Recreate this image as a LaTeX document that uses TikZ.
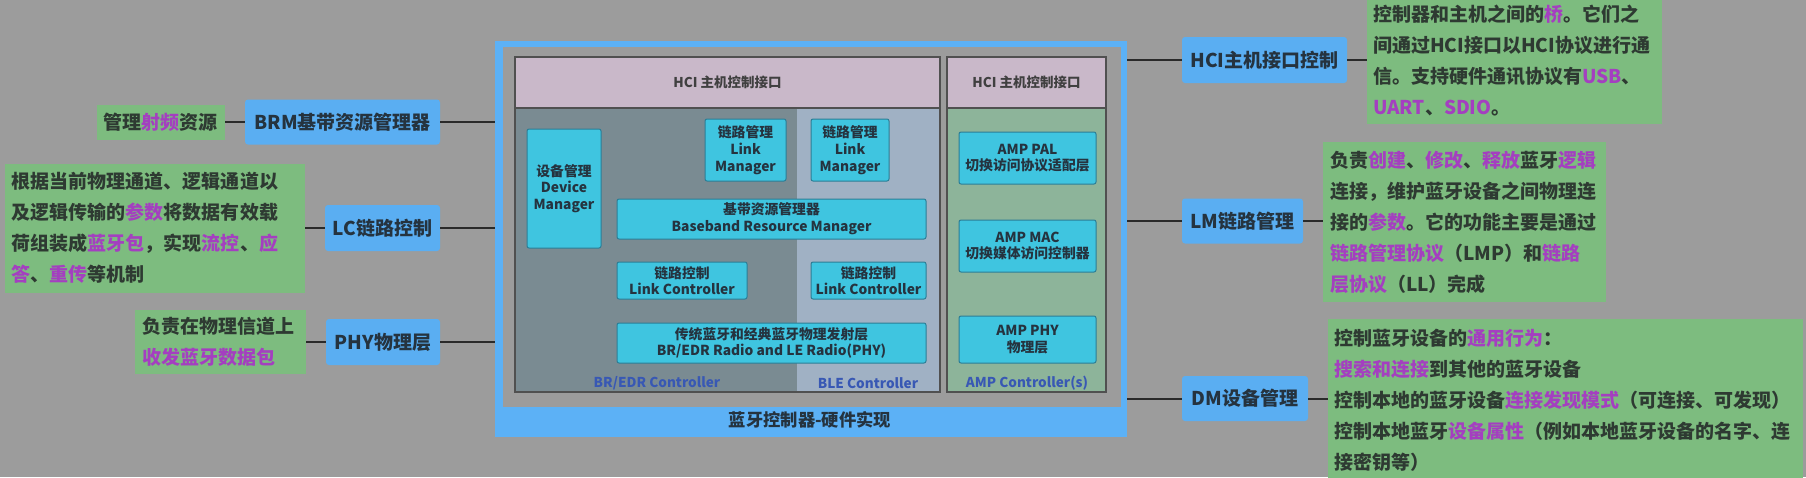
\documentclass[tikz,border=0pt]{standalone}
\usepackage{fontspec}
\setmainfont{Noto Sans CJK SC}
\definecolor{bg}{HTML}{9C9C9C}
\definecolor{nodeblue}{HTML}{5AAEF2}
\definecolor{frameblue}{HTML}{5CB1F6}
\definecolor{descgreen}{HTML}{7DBC7F}
\definecolor{hl}{HTML}{A43FC0}
\definecolor{txt}{HTML}{25333F}
\definecolor{gtxt}{HTML}{2E3A32}
\definecolor{cyanbox}{HTML}{3FC5E0}
\definecolor{cyanedge}{HTML}{2C7E96}
\definecolor{hciband}{HTML}{C9B8C9}
\definecolor{bredr}{HTML}{7A8B92}
\definecolor{blearea}{HTML}{A0B1C4}
\definecolor{amparea}{HTML}{8DB49A}
\definecolor{panedge}{HTML}{505050}
\definecolor{ctrlblue}{HTML}{3858B4}
\definecolor{conncol}{HTML}{2A2A2A}
\newcommand{\hiw}[1]{\textcolor{hl}{#1}}
\tikzset{
  topic/.style={fill=nodeblue, rounded corners=3pt, text=txt, inner sep=0pt, align=center,
    font=\fontsize{19}{23}\selectfont\bfseries},
  desc/.style={fill=descgreen, text=gtxt, inner ysep=0pt, align=left,
    font=\fontsize{19}{31}\selectfont\bfseries},
  ibox/.style={fill=cyanbox, draw=cyanedge, line width=1pt, rounded corners=2pt, text=txt,
    inner sep=0pt, align=center, font=\fontsize{13.8}{16.7}\selectfont\bfseries},
  area/.style={inner sep=0pt, draw=none},
  bandlbl/.style={text=black!75, font=\fontsize{13.5}{16}\selectfont\bfseries},
  ctrllbl/.style={text=ctrlblue, font=\fontsize{13.6}{16}\selectfont\bfseries},
  conn/.style={draw=conncol, line width=2pt},
}
\begin{document}
\begin{tikzpicture}[x=1pt,y=-1pt]
\useasboundingbox (0,0) rectangle (1806,477);
\clip (0,0) rectangle (1806,477);
\fill[bg] (0,0) rectangle (1806,477);

% ---- controller frame
\node[area, fill=frameblue, minimum width=632pt, minimum height=396pt] (ctrl) at (811,239) {};
\fill[bg] (503,47) rectangle (1121,407);
\node[text=txt, font=\fontsize{17.3}{20}\selectfont\bfseries] (ctrltitle) at (810,420) {蓝牙控制器-硬件实现};

% ---- left panel (BR/EDR + BLE)
\node[area, fill=hciband, minimum width=425pt, minimum height=51pt] (hcia) at (727.5,82.5) {};
\node[bandlbl] at (hcia) {HCI 主机控制接口};
\node[area, fill=bredr, minimum width=282pt, minimum height=284pt] (bredr) at (656,250) {};
\node[area, fill=blearea, minimum width=143pt, minimum height=284pt] (ble) at (868.5,250) {};
\draw[panedge, line width=1.5pt] (515,57) rectangle (940,392);
\draw[panedge, line width=1.5pt] (515,108) -- (940,108);

% ---- right panel (AMP)
\node[area, fill=hciband, minimum width=159pt, minimum height=51pt] (hcib) at (1026.5,82.5) {};
\node[bandlbl] at (hcib) {HCI 主机控制接口};
\node[area, fill=amparea, minimum width=159pt, minimum height=284pt] (amp) at (1026.5,250) {};
\draw[panedge, line width=1.5pt] (947,57) rectangle (1106,392);
\draw[panedge, line width=1.5pt] (947,108) -- (1106,108);

% ---- inner boxes
\node[ibox, minimum width=74pt, minimum height=119pt] (devmgr) at (564,188.5) {设备管理\\Device\\Manager};
\node[ibox, minimum width=81pt, minimum height=62pt] (lm1) at (745.5,150) {链路管理\\Link\\Manager};
\node[ibox, minimum width=78pt, minimum height=62pt] (lm2) at (850,150) {链路管理\\Link\\Manager};
\node[ibox, minimum width=309pt, minimum height=40pt] (bbrm) at (771.5,219) {基带资源管理器\\Baseband Resource Manager};
\node[ibox, minimum width=130pt, minimum height=37pt] (lc1) at (682,280.5) {链路控制\\Link Controller};
\node[ibox, minimum width=115pt, minimum height=37pt] (lc2) at (868.5,280.5) {链路控制\\Link Controller};
\node[ibox, minimum width=309pt, minimum height=40pt] (phybox) at (771.5,343) {传统蓝牙和经典蓝牙物理发射层\\BR/EDR Radio and LE Radio(PHY)};
\node[ibox, minimum width=137pt, minimum height=52pt] (amppal) at (1027.5,158) {AMP PAL\\切换访问协议适配层};
\node[ibox, minimum width=137pt, minimum height=52pt] (ampmac) at (1027.5,246) {AMP MAC\\切换媒体访问控制器};
\node[ibox, minimum width=137pt, minimum height=47pt] (ampphy) at (1027.5,339.5) {AMP PHY\\物理层};

\node[ctrllbl] (lblbredr) at (657,383) {BR/EDR Controller};
\node[ctrllbl] (lblble) at (868,383) {BLE Controller};
\node[ctrllbl] (lblamp) at (1027,383) {AMP Controller(s)};

% ---- left topics
\node[topic, minimum width=195pt, minimum height=45pt] (brm) at (342.5,122) {BRM基带资源管理器};
\node[topic, minimum width=115pt, minimum height=46pt] (lc) at (382.5,228) {LC链路控制};
\node[topic, minimum width=114pt, minimum height=46pt] (phy) at (383,342) {PHY物理层};

\node[desc, inner xsep=6pt, text width=116pt, minimum height=35pt] (frq) at (161,122) {管理\hiw{射频}资源};
\node[desc, inner xsep=7pt, text width=286pt, minimum height=129pt] (lcd) at (155,228) {根据当前物理通道、逻辑通道以\\及逻辑传输的\hiw{参数}将数据有效载\\荷组装成\hiw{蓝牙包}，实现\hiw{流控}、\hiw{应}\\\hiw{答}、\hiw{重传}等机制};
\node[desc, inner xsep=7pt, text width=157pt, minimum height=64pt] (phyd) at (220.5,342) {负责在物理信道上\\\hiw{收发蓝牙数据包}};

% ---- right topics
\node[topic, minimum width=165pt, minimum height=46pt] (hci) at (1264.5,60) {HCI主机接口控制};
\node[topic, minimum width=121pt, minimum height=45pt] (lm) at (1242.5,221) {LM链路管理};
\node[topic, minimum width=126pt, minimum height=45pt] (dm) at (1245,398.5) {DM设备管理};

\node[desc, inner xsep=6pt, text width=283pt, minimum height=126pt] (hcid) at (1514.5,61) {控制器和主机之间的\hiw{桥}。它们之\\间通过HCI接口以HCI协议进行通\\信。支持硬件通讯协议有\hiw{USB}、\\\hiw{UART}、\hiw{SDIO}。};
\node[desc, inner xsep=7pt, text width=269pt, minimum height=160pt] (lmd) at (1464.5,222) {负责\hiw{创建}、\hiw{修改}、\hiw{释放}蓝牙\hiw{逻辑}\\连接，维护蓝牙设备之间物理连\\接的\hiw{参数}。它的功能主要是通过\\\hiw{链路管理协议}（LMP）和\hiw{链路}\\\hiw{层协议}（LL）完成};
\node[desc, inner xsep=6pt, text width=463pt, minimum height=162pt] (dmd) at (1565.5,400) {控制蓝牙设备的\hiw{通用行为}：\\\hiw{搜索和连接}到其他的蓝牙设备\\控制本地的蓝牙设备\hiw{连接发现模式}（可连接、可发现）\\控制本地蓝牙\hiw{设备属性}（例如本地蓝牙设备的名字、连\\接密钥等）};

% ---- connectors
\draw[conn] (frq.east) -- (frq.east -| brm.west);
\draw[conn] (brm.east) -- (brm.east -| ctrl.west);
\draw[conn] (lcd.east |- lc.west) -- (lc.west);
\draw[conn] (lc.east) -- (lc.east -| ctrl.west);
\draw[conn] (phyd.east) -- (phyd.east -| phy.west);
\draw[conn] (phy.east) -- (phy.east -| ctrl.west);
\draw[conn] (ctrl.east |- hci.west) -- (hci.west);
\draw[conn] (hci.east) -- (hci.east -| hcid.west);
\draw[conn] (ctrl.east |- lm.west) -- (lm.west);
\draw[conn] (lm.east) -- (lm.east -| lmd.west);
\draw[conn] (ctrl.east |- dm.west) -- (dm.west);
\draw[conn] (dm.east) -- (dm.east -| dmd.west);
\end{tikzpicture}
\end{document}
